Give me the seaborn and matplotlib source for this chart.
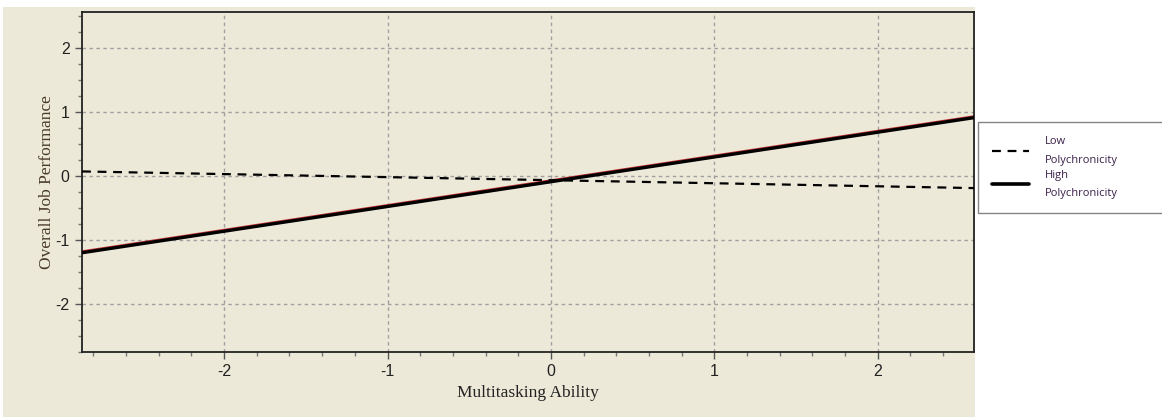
import pandas as pd
import matplotlib.pyplot as plt
from matplotlib.patches import Rectangle
from matplotlib.lines import Line2D
from matplotlib.ticker import MultipleLocator
import seaborn as sns

# Values
multitasking = [-2.87, 2.59]
low_poly = [0.07, -0.19]
high_poly = [-1.20, 0.91]
groups = ["Low\nPolychronicity", "High\nPolychronicity"]

x_ticks = [-2, -1, 0, 1, 2]
y_ticks = [-2, -1, 0, 1, 2]

beige = "#ECE9D8"

sns.set_theme(style="ticks")
plt.rcParams["axes.unicode_minus"] = False

df = pd.DataFrame({
    "x": multitasking * 2,
    "y": low_poly + high_poly,
    "group": [groups[0]] * 2 + [groups[1]] * 2,
})

fig = plt.figure(figsize=(11.62, 4.17), dpi=100, facecolor="white")
bg = Rectangle((3 / 1162, 0), 972 / 1162, 1 - 7 / 417,
               transform=fig.transFigure, facecolor=beige,
               edgecolor="none", zorder=-10)
fig.patches.append(bg)
ax = fig.add_axes([82 / 1162, 1 - 352 / 417, 892 / 1162, 340 / 417])
ax.set_facecolor(beige)

# red fringe under the high line, as in the source
ax.plot(multitasking, [v + 0.012 for v in high_poly], color="#c03030", lw=2.4, zorder=2)
sns.lineplot(data=df, x="x", y="y", style="group", size="group",
             dashes={groups[0]: (4, 3), groups[1]: ""},
             sizes={groups[0]: 1.6, groups[1]: 2.4},
             color="black", ax=ax, legend=False, zorder=3)

ax.set_xlim(multitasking[0], multitasking[1])
ax.set_ylim(-2.75, 2.56)
ax.set_xticks(x_ticks)
ax.set_yticks(y_ticks)
ax.xaxis.set_minor_locator(MultipleLocator(0.2))
ax.yaxis.set_minor_locator(MultipleLocator(0.25))
ax.tick_params(which="major", direction="out", length=5, width=1, color="#555555",
               labelsize=11.5, pad=4)
ax.tick_params(which="minor", direction="out", length=3, width=1, color="#777777")
for lab in ax.get_xticklabels() + ax.get_yticklabels():
    lab.set_fontfamily("Liberation Sans")
    lab.set_color("#222222")

ax.grid(True, which="major", color="#a0a0a0", linestyle=(0, (2.5, 2.5)), linewidth=1)
for s in ax.spines.values():
    s.set_color("#222222")
    s.set_linewidth(1.3)

ax.set_xlabel("Multitasking Ability", family="Liberation Serif", fontsize=12.5,
              color="#222222", labelpad=4)
ax.set_ylabel("Overall Job Performance", family="Liberation Serif", fontsize=12.5,
              color="#4a3a2a", labelpad=0)

handles = [Line2D([], [], color="black", lw=1.6, dashes=(4, 3)),
           Line2D([], [], color="black", lw=2.6)]
leg = fig.legend(handles, groups, loc="upper left", mode="expand",
                 bbox_to_anchor=(978 / 1162, 0, 200 / 1162, 1 - 122 / 417),
                 borderaxespad=0,
                 frameon=True, fancybox=False, handlelength=3.3,
                 handletextpad=1.4, borderpad=1.3, labelspacing=0.35,
                 prop={"family": "Open Sans", "size": 8})
leg.get_frame().set_edgecolor("#666666")
leg.get_frame().set_linewidth(1)
for t in leg.get_texts():
    t.set_color("#3a2048")
    t.set_linespacing(1.9)

fig.savefig("out.png", dpi=100, facecolor="white")
